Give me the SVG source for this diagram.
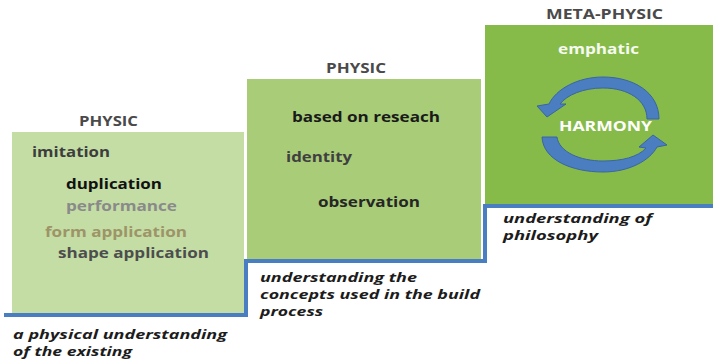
<svg xmlns="http://www.w3.org/2000/svg" width="713" height="362" viewBox="0 0 713 362">
  <defs>
    <style>
      .t { font-family: "Open Sans", "Liberation Sans", sans-serif; font-weight: bold; font-size: 13.5px; }
      .head { fill: #4a4a4a; }
      .note { font-family: "Open Sans", "Liberation Sans", sans-serif; font-weight: bold; font-style: italic; font-size: 12.5px; fill: #1c1c1c; }
      .cyc { fill: #4a7ec0; stroke: #3a65a2; stroke-width: 1; stroke-linejoin: round; }
    </style>
  </defs>
  <rect width="713" height="362" fill="#ffffff"/>

  <!-- step 1: physic -->
  <g id="step-physic-1">
    <rect x="12" y="132" width="232" height="181" fill="#c3dda5"/>
    <text class="t head" x="79" y="126" textLength="59" lengthAdjust="spacingAndGlyphs">PHYSIC</text>
    <text class="t" x="32" y="157" fill="#3d3d3d" textLength="78" lengthAdjust="spacingAndGlyphs">imitation</text>
    <text class="t" x="66" y="189" fill="#111111" textLength="96" lengthAdjust="spacingAndGlyphs">duplication</text>
    <text class="t" x="66" y="211" fill="#8a8a8a" textLength="111" lengthAdjust="spacingAndGlyphs">performance</text>
    <text class="t" x="45" y="237" fill="#9d9467" textLength="142" lengthAdjust="spacingAndGlyphs">form application</text>
    <text class="t" x="58" y="258" fill="#4d4d4d" textLength="151" lengthAdjust="spacingAndGlyphs">shape application</text>
    <text class="note" x="13" y="339" textLength="214" lengthAdjust="spacingAndGlyphs">a physical understanding</text>
    <text class="note" x="13" y="356" textLength="119" lengthAdjust="spacingAndGlyphs">of the existing</text>
  </g>

  <!-- step 2: physic -->
  <g id="step-physic-2">
    <rect x="247" y="79" width="234" height="180" fill="#a8cc78"/>
    <text class="t head" x="326" y="73" textLength="60" lengthAdjust="spacingAndGlyphs">PHYSIC</text>
    <text class="t" x="292" y="122" fill="#1a1a1a" textLength="148" lengthAdjust="spacingAndGlyphs">based on reseach</text>
    <text class="t" x="286" y="162" fill="#404040" textLength="66" lengthAdjust="spacingAndGlyphs">identity</text>
    <text class="t" x="318" y="207" fill="#262626" textLength="102" lengthAdjust="spacingAndGlyphs">observation</text>
    <text class="note" x="260" y="282" textLength="157" lengthAdjust="spacingAndGlyphs">understanding the</text>
    <text class="note" x="260" y="299" textLength="220" lengthAdjust="spacingAndGlyphs">concepts used in the build</text>
    <text class="note" x="260" y="316" textLength="63" lengthAdjust="spacingAndGlyphs">process</text>
  </g>

  <!-- step 3: meta-physic -->
  <g id="step-metaphysic">
    <rect x="485" y="25" width="228" height="179" fill="#86bb4a"/>
    <text class="t head" x="546" y="19" textLength="117" lengthAdjust="spacingAndGlyphs">META-PHYSIC</text>
    <text class="t" x="558" y="54" fill="#f6faf0" textLength="81" lengthAdjust="spacingAndGlyphs">emphatic</text>
    <text class="note" x="503" y="223" textLength="149" lengthAdjust="spacingAndGlyphs">understanding of</text>
    <text class="note" x="503" y="240" textLength="95" lengthAdjust="spacingAndGlyphs">philosophy</text>
  </g>

  <!-- harmony cycle -->
  <g id="harmony-cycle">
    <path class="cyc" d="M659,119 C659,92 633,77 603,77 C578,77 556,89 549,104 L537,106 L547,117 L566,104 L560,104 C567,95 583,88 603,88 C628,88 647,100 647,119 Z"/>
    <path class="cyc" d="M542,137 C543,160 572,172 603,172 C630,172 650,160 657,147 L667,145 L653,135 L639,147 L646,148 C638,157 622,161 603,161 C580,161 559,152 557,137 Z"/>
    <text class="t" x="559" y="131" fill="#ffffff" textLength="93" lengthAdjust="spacingAndGlyphs">HARMONY</text>
  </g>

  <!-- stair baseline -->
  <g id="connectors">
    <path d="M4,315 H246 V261 H485 V206 H713" fill="none" stroke="#4a7ec2" stroke-width="4"/>
  </g>
</svg>
